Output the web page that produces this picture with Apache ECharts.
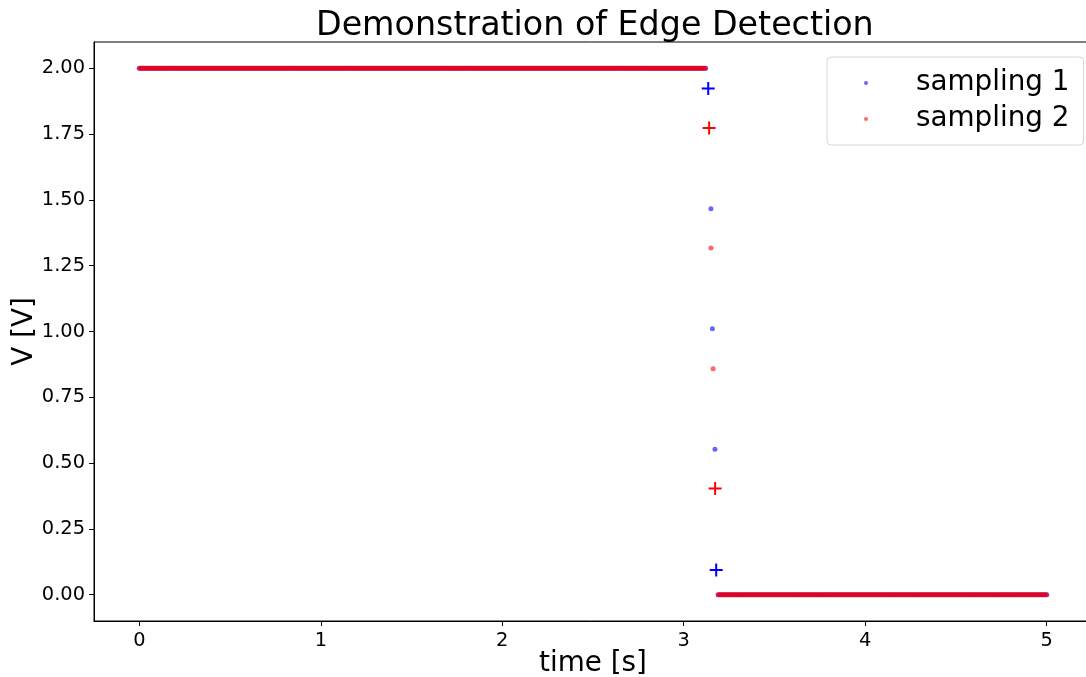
<!DOCTYPE html>
<html>
<head>
<meta charset="utf-8">
<script src="https://cdn.jsdelivr.net/npm/echarts@6/dist/echarts.min.js"></script>
<style>html,body{margin:0;padding:0;background:#fff;overflow:hidden}#c{width:1086px;height:677px}</style>
</head>
<body>
<div id="c"></div>
<script>
// ---- data ----
const xTicks = [0, 1, 2, 3, 4, 5];
const yTicks = [0, 0.25, 0.5, 0.75, 1.0, 1.25, 1.5, 1.75, 2.0];
const highLevel = 2.0;        // V before the edge
const lowLevel = 0.0;         // V after the edge
const sampleStep = 0.01;      // s, sampling period
const highEnd = 3.12;         // last sample on the high level
const lowStart = 3.19;        // first sample on the low level
const tEnd = 5.0;
// samples taken during the falling edge
const s1RampT = [3.150, 3.158, 3.172];
const s1RampV = [1.466, 1.010, 0.553];
const s2RampT = [3.150, 3.162];
const s2RampV = [1.317, 0.858];
// detected edge samples (plus markers)
const s1EdgeT = [3.135, 3.179];
const s1EdgeV = [1.923, 0.094];
const s2EdgeT = [3.140, 3.173];
const s2EdgeV = [1.773, 0.403];

function buildSeries(rampT, rampV) {
  const pts = [];
  const nHigh = Math.round(highEnd / sampleStep);
  for (let i = 0; i <= nHigh; i++) pts.push([+(i * sampleStep).toFixed(4), highLevel]);
  rampT.forEach((t, i) => pts.push([t, rampV[i]]));
  const n0 = Math.round(lowStart / sampleStep), n1 = Math.round(tEnd / sampleStep);
  for (let i = n0; i <= n1; i++) pts.push([+(i * sampleStep).toFixed(4), lowLevel]);
  return pts;
}
const s1 = buildSeries(s1RampT, s1RampV);
const s2 = buildSeries(s2RampT, s2RampV);
const e1 = s1EdgeT.map((t, i) => [t, s1EdgeV[i]]);
const e2 = s2EdgeT.map((t, i) => [t, s2EdgeV[i]]);

const plusPath = 'path://M0,5.5H13V7.5H0Z M5.5,0H7.5V13H5.5Z';
const FONT = 'DejaVu Sans';

const chart = echarts.init(document.getElementById('c'), null, {renderer: 'canvas'});
chart.setOption({
  animation: false,
  backgroundColor: '#fff',
  title: {
    text: 'Demonstration of Edge Detection',
    left: 311, top: 5,
    textStyle: {fontFamily: FONT, fontSize: 33.3, fontWeight: 'normal', color: '#000'}
  },
  legend: {
    data: ['sampling 1', 'sampling 2'],
    orient: 'vertical',
    left: 827, top: 57,
    padding: [11, 14, 11, 37],
    itemWidth: 4, itemHeight: 4, itemGap: 6,
    icon: 'circle',
    borderColor: '#d6d6d6', borderWidth: 1, borderRadius: 4,
    backgroundColor: 'rgba(255,255,255,0.8)',
    formatter: name => '{t|' + name + '}',
    textStyle: {fontFamily: FONT, fontSize: 27.8, color: '#000', lineHeight: 30,
      rich: {t: {fontFamily: FONT, fontSize: 27.8, color: '#000', lineHeight: 30, padding: [0, 0, 0, 43]}}}
  },
  grid: {left: 94, right: -6, top: 42, bottom: 56, show: true, borderColor: '#000', borderWidth: 1,
    containLabel: false, outerBoundsMode: 'none'},
  xAxis: {
    type: 'value', min: -0.25, max: 5.25,
    name: 'time [s]', nameLocation: 'middle', nameGap: 29, nameMoveOverlap: false,
    nameTextStyle: {fontFamily: FONT, fontSize: 27.8, color: '#000'},
    axisLine: {show: true, onZero: false, lineStyle: {color: '#000'}},
    axisTick: {show: true, length: 5, lineStyle: {color: '#000'}, customValues: xTicks},
    axisLabel: {fontFamily: FONT, fontSize: 19.4, color: '#000', margin: 10, customValues: xTicks},
    splitLine: {show: false}
  },
  yAxis: {
    type: 'value', min: -0.1, max: 2.1,
    name: 'V [V]', nameLocation: 'middle', nameGap: 55, nameRotate: 90, nameMoveOverlap: false,
    nameTextStyle: {fontFamily: FONT, fontSize: 27.8, color: '#000'},
    axisLine: {show: true, onZero: false, lineStyle: {color: '#000'}},
    axisTick: {show: true, length: 5, lineStyle: {color: '#000'}, customValues: yTicks},
    axisLabel: {fontFamily: FONT, fontSize: 19.4, color: '#000', margin: 9, customValues: yTicks,
      formatter: v => v.toFixed(2)},
    splitLine: {show: false}
  },
  series: [
    {name: 'sampling 1', type: 'scatter', data: s1, symbol: 'circle', symbolSize: 5,
      itemStyle: {color: 'rgba(0,0,255,0.6)', opacity: 1}, z: 2},
    {name: 'sampling 2', type: 'scatter', data: s2, symbol: 'circle', symbolSize: 5,
      itemStyle: {color: 'rgba(255,0,0,0.6)', opacity: 1}, z: 3},
    {name: 'edge 1', type: 'scatter', data: e1, symbol: plusPath, symbolSize: 13,
      itemStyle: {color: '#0000ff', opacity: 1}, z: 4},
    {name: 'edge 2', type: 'scatter', data: e2, symbol: plusPath, symbolSize: 13,
      itemStyle: {color: '#ff0000', opacity: 1}, z: 4}
  ]
});
</script>
</body>
</html>
